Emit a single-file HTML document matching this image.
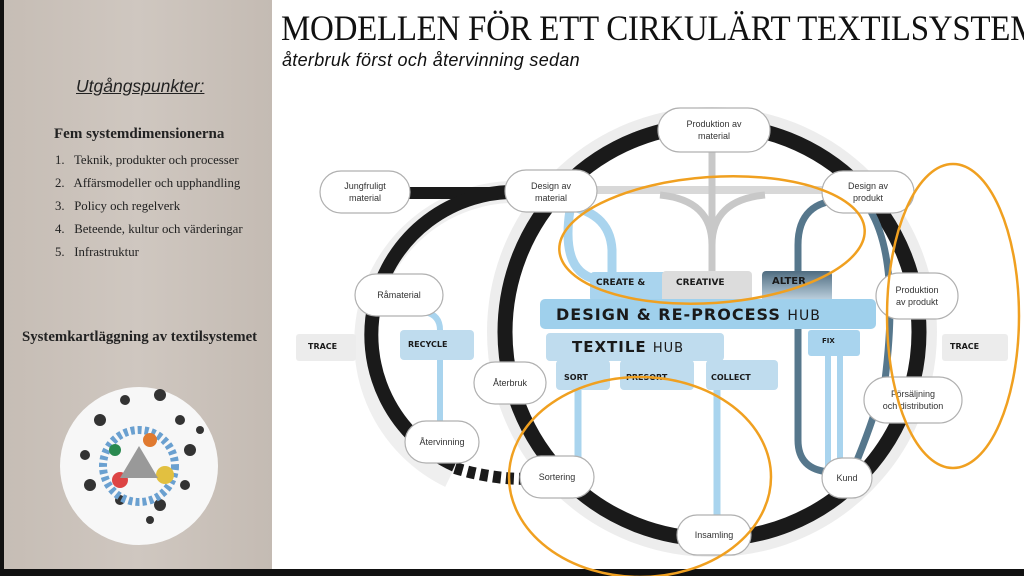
<!DOCTYPE html>
<html><head><meta charset="utf-8"><style>
html,body{margin:0;padding:0;width:1024px;height:576px;overflow:hidden;background:#fff}
.left{position:absolute;left:0;top:0;width:272px;height:569px;background:linear-gradient(90deg,#c6bdb5,#cfc7c0 50%,#c4bbb3);border-left:4px solid #111;box-sizing:border-box}
.bot{position:absolute;left:0;top:569px;width:1024px;height:7px;background:#111}
.t{position:absolute;font-family:"Liberation Serif",serif;color:#222;white-space:nowrap}
</style></head><body>
<div class="left"></div>
<div class="t" style="left:76px;top:76px;font-family:'Liberation Sans',sans-serif;font-style:italic;font-size:17.5px;text-decoration:underline">Utgångspunkter:</div>
<div class="t" style="left:54px;top:126px;font-weight:bold;font-size:15px">Fem systemdimensionerna</div>
<div class="t" style="left:55px;top:149px;font-size:12.8px;line-height:23px">1.&nbsp;&nbsp; Teknik, produkter och processer<br>2.&nbsp;&nbsp; Affärsmodeller och upphandling<br>3.&nbsp;&nbsp; Policy och regelverk<br>4.&nbsp;&nbsp; Beteende, kultur och värderingar<br>5.&nbsp;&nbsp; Infrastruktur</div>
<div class="t" style="left:22px;top:329px;font-weight:bold;font-size:14.8px">Systemkartläggning av textilsystemet</div>
<div class="bot"></div>
<div class="t" style="left:281px;top:9px;font-size:33px;transform:scaleY(1.1);transform-origin:left top;color:#111;letter-spacing:-0.3px">MODELLEN FÖR ETT CIRKULÄRT TEXTILSYSTEM</div>
<div class="t" style="left:282px;top:50px;font-family:'Liberation Sans',sans-serif;font-style:italic;font-size:18px;color:#111;letter-spacing:0.3px">återbruk först och återvinning sedan</div>
<svg width="1024" height="576" style="position:absolute;left:0;top:0" font-family="Liberation Sans, sans-serif">
<circle cx="139" cy="466" r="79" fill="#f7f7f7"/>
<g fill="#333">
<circle cx="100" cy="420" r="6"/><circle cx="125" cy="400" r="5"/><circle cx="160" cy="395" r="6"/><circle cx="180" cy="420" r="5"/><circle cx="190" cy="450" r="6"/><circle cx="185" cy="485" r="5"/><circle cx="160" cy="505" r="6"/><circle cx="120" cy="500" r="5"/><circle cx="90" cy="485" r="6"/><circle cx="85" cy="455" r="5"/><circle cx="150" cy="520" r="4"/><circle cx="200" cy="430" r="4"/>
</g>
<circle cx="139" cy="466" r="36" fill="none" stroke="#6aa0d0" stroke-width="8" stroke-dasharray="4 3"/>
<circle cx="120" cy="480" r="8" fill="#d44"/><circle cx="165" cy="475" r="9" fill="#e2c040"/><circle cx="150" cy="440" r="7" fill="#e07a30"/><circle cx="115" cy="450" r="6" fill="#2a8a50"/>
<polygon points="139,446 158,478 120,478" fill="#999"/>
<circle cx="712" cy="332" r="218" fill="none" stroke="#ededed" stroke-width="14"/>
<path d="M 520 192 A 150 150 0 0 0 450 477" fill="none" stroke="#efefef" stroke-width="22"/>
<circle cx="712" cy="332" r="207" fill="none" stroke="#1a1a1a" stroke-width="15"/>
<line x1="400" y1="193" x2="560" y2="193" stroke="#1a1a1a" stroke-width="12"/>
<path d="M 520 192 A 143 143 0 0 0 455 465" fill="none" stroke="#1a1a1a" stroke-width="14"/>
<path d="M 455 468 Q 500 482 545 478" fill="none" stroke="#1a1a1a" stroke-width="12" stroke-dasharray="8 5"/>
<path d="M 590 190 L 850 190" stroke="#d8d8d8" stroke-width="8" fill="none"/>
<path d="M 712 150 L 712 275 M 660 195 Q 712 200 712 245 Q 712 200 765 195" stroke="#c8c8c8" stroke-width="7" fill="none"/>
<path d="M 560 205 Q 610 210 612 250 L 612 275" stroke="#a9d4ee" stroke-width="9" fill="none"/>
<path d="M 570 210 Q 560 275 600 280" stroke="#a9d4ee" stroke-width="9" fill="none"/>
<path d="M 845 200 Q 798 200 798 245 L 798 440 Q 798 470 830 472" stroke="#56778c" stroke-width="7" fill="none"/>
<path d="M 870 210 Q 900 260 885 380 Q 870 430 855 465" stroke="#56778c" stroke-width="7" fill="none"/>
<path d="M 828 350 L 828 470 M 840 350 L 840 470" stroke="#a9d4ee" stroke-width="6" fill="none"/>
<path d="M 578 388 L 578 462" stroke="#a9d4ee" stroke-width="7" fill="none"/>
<path d="M 717 388 L 717 520" stroke="#a9d4ee" stroke-width="7" fill="none"/>
<path d="M 440 360 L 440 425 M 440 330 Q 440 315 425 312" stroke="#a9d4ee" stroke-width="6" fill="none"/>
<rect x="590" y="272" width="80" height="30" rx="4" fill="#a9d4ee"/>
<rect x="662" y="271" width="90" height="32" rx="4" fill="#dcdcdc"/>
<defs><linearGradient id="ga" x1="0" y1="0" x2="0" y2="1"><stop offset="0" stop-color="#4f6c80"/><stop offset="1" stop-color="#c8dbe8"/></linearGradient></defs>
<rect x="762" y="271" width="70" height="32" rx="4" fill="url(#ga)"/>
<rect x="540" y="299" width="336" height="30" rx="5" fill="#9fd0ec"/>
<rect x="546" y="333" width="178" height="28" rx="4" fill="#bfdcee"/>
<rect x="556" y="360" width="54" height="30" rx="4" fill="#bfdcee"/>
<rect x="620" y="360" width="74" height="30" rx="4" fill="#bfdcee"/>
<rect x="706" y="360" width="72" height="30" rx="4" fill="#bfdcee"/>
<rect x="808" y="330" width="52" height="26" rx="3" fill="#a9d4ee"/>
<rect x="400" y="330" width="74" height="30" rx="4" fill="#bfdcee"/>
<rect x="296" y="334" width="60" height="27" rx="3" fill="#ececec"/>
<rect x="942" y="334" width="66" height="27" rx="3" fill="#ececec"/>
<g font-weight="bold" fill="#1a1a1a" font-family="DejaVu Sans, sans-serif">
<text x="596" y="285" font-size="9">CREATE &amp;</text>
<text x="676" y="285" font-size="9">CREATIVE</text>
<text x="772" y="284" font-size="10">ALTER</text>
<text x="556" y="320" font-size="16" letter-spacing="1">DESIGN &amp; RE-PROCESS <tspan font-weight="normal" font-size="14">HUB</tspan></text>
<text x="572" y="352" font-size="15" letter-spacing="1">TEXTILE <tspan font-weight="normal" font-size="13">HUB</tspan></text>
<text x="564" y="380" font-size="8">SORT</text>
<text x="626" y="380" font-size="8">PRESORT</text>
<text x="711" y="380" font-size="8">COLLECT</text>
<text x="822" y="343" font-size="7">FIX</text>
<text x="408" y="347" font-size="8">RECYCLE</text>
<text x="308" y="349" font-size="8">TRACE</text>
<text x="950" y="349" font-size="8">TRACE</text>
</g>
<g fill="#fff" stroke="#b0b0b0" stroke-width="1.2">
<rect x="658" y="108" width="112" height="44" rx="22"/>
<rect x="320" y="171" width="90" height="42" rx="21"/>
<rect x="505" y="170" width="92" height="42" rx="21"/>
<rect x="822" y="171" width="92" height="42" rx="21"/>
<rect x="355" y="274" width="88" height="42" rx="21"/>
<rect x="876" y="273" width="82" height="46" rx="23"/>
<rect x="474" y="362" width="72" height="42" rx="21"/>
<rect x="864" y="377" width="98" height="46" rx="23"/>
<rect x="405" y="421" width="74" height="42" rx="21"/>
<rect x="520" y="456" width="74" height="42" rx="21"/>
<rect x="822" y="458" width="50" height="40" rx="20"/>
<rect x="677" y="515" width="74" height="40" rx="20"/>
</g>
<g font-size="9" fill="#333" text-anchor="middle">
<text x="714" y="127">Produktion av</text><text x="714" y="139">material</text>
<text x="365" y="189">Jungfruligt</text><text x="365" y="201">material</text>
<text x="551" y="189">Design av</text><text x="551" y="201">material</text>
<text x="868" y="189">Design av</text><text x="868" y="201">produkt</text>
<text x="399" y="298">Råmaterial</text>
<text x="917" y="293">Produktion</text><text x="917" y="305">av produkt</text>
<text x="510" y="386">Återbruk</text>
<text x="913" y="397">Försäljning</text><text x="913" y="409">och distribution</text>
<text x="442" y="445">Återvinning</text>
<text x="557" y="480">Sortering</text>
<text x="847" y="481">Kund</text>
<text x="714" y="538">Insamling</text>
</g>
<g fill="none" stroke="#f0a020" stroke-width="2.5">
<ellipse cx="712" cy="240" rx="153" ry="63" transform="rotate(-4 712 240)"/>
<ellipse cx="953" cy="316" rx="66" ry="152"/>
<ellipse cx="640" cy="477" rx="131" ry="100"/>
</g>
</svg>
</body></html>
